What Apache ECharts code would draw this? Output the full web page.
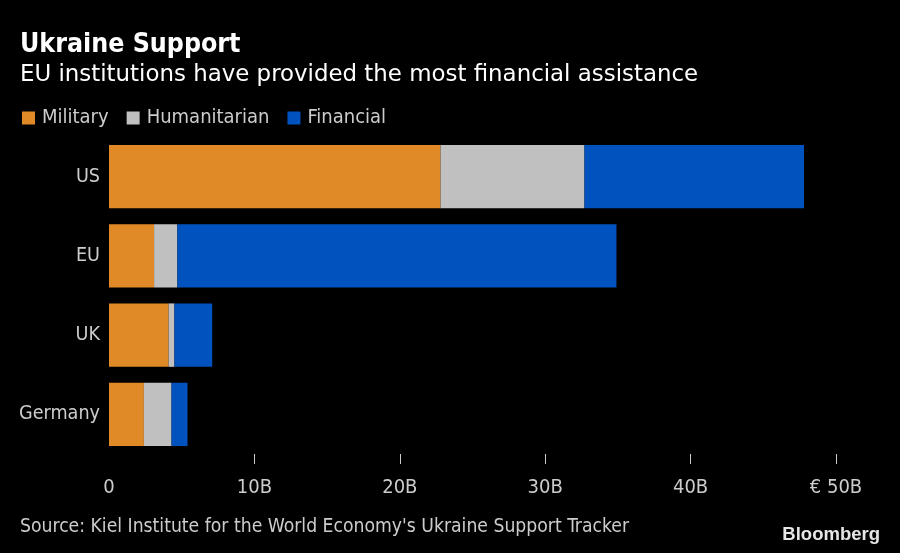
<!DOCTYPE html>
<html>
<head>
<meta charset="utf-8">
<script src="https://cdn.jsdelivr.net/npm/echarts@6/dist/echarts.min.js"></script>
<style>
html,body{margin:0;padding:0;background:#000;}
#chart{width:900px;height:553px;}
</style>
</head>
<body>
<div id="chart"></div>
<script>
const categories = ['US', 'EU', 'UK', 'Germany'];
const military = [22.8, 3.1, 4.1, 2.4];
const humanitarian = [9.9, 1.6, 0.4, 1.9];
const financial = [15.1, 30.2, 2.6, 1.1];
const tickValues = [0, 10, 20, 30, 40, 50];
const tickLabels = ['0', '10B', '20B', '30B', '40B', '€ 50B'];

const FONT = '"DejaVu Sans Condensed", "DejaVu Sans", sans-serif';
const chart = echarts.init(document.getElementById('chart'), null, {renderer: 'canvas'});
const option = {
  backgroundColor: '#000000',
  animation: false,
  textStyle: {fontFamily: FONT},
  title: [
    {text: 'Ukraine Support', left: 20, top: 32, padding: 0, textStyle: {color: '#ffffff', fontSize: 26.5, fontWeight: 'bold', fontFamily: FONT}},
    {text: 'EU institutions have provided the most financial assistance', left: 20, top: 64, padding: 0, textStyle: {color: '#ffffff', fontSize: 22.9, fontWeight: 'normal', fontFamily: '"DejaVu Sans", sans-serif'}},
    {text: "Source: Kiel Institute for the World Economy's Ukraine Support Tracker", left: 20, top: 518, padding: 0, textStyle: {color: '#cccccc', fontSize: 19.2, fontWeight: 'normal', fontFamily: FONT}},
    {text: 'Bloomberg', right: 20, top: 525, padding: 0, textStyle: {color: '#e6e6e6', fontSize: 18.5, fontWeight: 'bold', fontFamily: '"Liberation Sans", Arial, sans-serif'}}
  ],
  legend: {
    left: 22, top: 108, padding: 0,
    icon: 'rect', itemWidth: 13, itemHeight: 13, itemGap: 18,
    textStyle: {color: '#cccccc', fontSize: 20, fontFamily: FONT, padding: [0, 0, 0, 2]},
    data: ['Military', 'Humanitarian', 'Financial']
  },
  grid: {left: 109, right: 64, top: 137, bottom: 99, containLabel: false},
  xAxis: {
    type: 'value', min: 0, max: 50, interval: 10,
    axisLine: {show: false},
    splitLine: {show: false},
    axisTick: {show: true, length: 10, customValues: [10, 20, 30, 40, 50], lineStyle: {color: '#cccccc', width: 1}},
    axisLabel: {
      color: '#cccccc', fontSize: 20, margin: 24, fontFamily: FONT,
      customValues: tickValues,
      formatter: function (v) { const i = tickValues.indexOf(v); return i >= 0 ? tickLabels[i] : ''; }
    }
  },
  yAxis: {
    type: 'category', data: categories, inverse: true,
    axisLine: {show: false}, axisTick: {show: false},
    axisLabel: {color: '#cccccc', fontSize: 19.6, margin: 9, fontFamily: FONT}
  },
  series: [
    {name: 'Military', type: 'bar', stack: 'total', data: military, barCategoryGap: '20%', itemStyle: {color: '#E08A27'}},
    {name: 'Humanitarian', type: 'bar', stack: 'total', data: humanitarian, itemStyle: {color: '#C0C0C0'}},
    {name: 'Financial', type: 'bar', stack: 'total', data: financial, itemStyle: {color: '#0052BE'}}
  ]
};
chart.setOption(option);
</script>
</body>
</html>
